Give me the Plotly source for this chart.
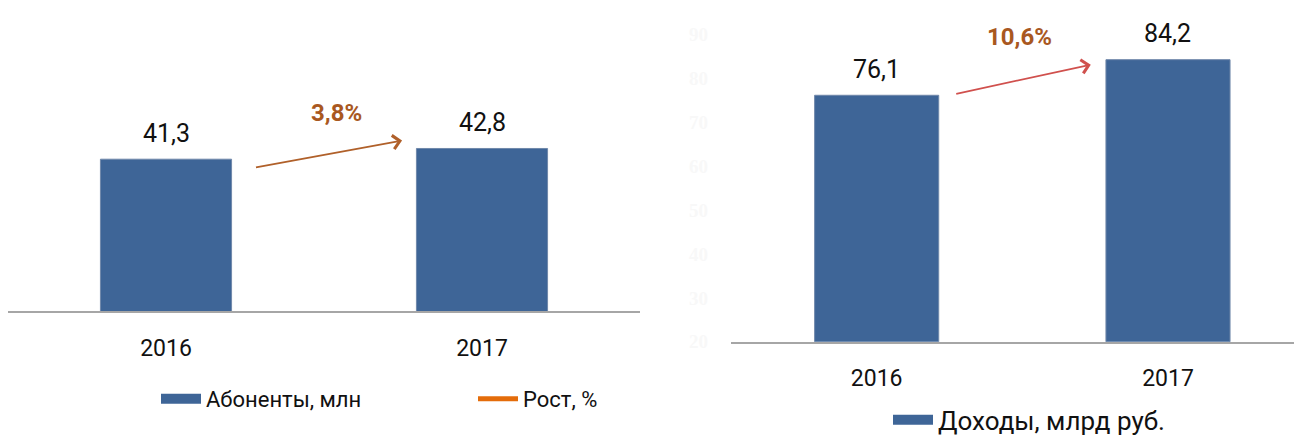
import plotly.graph_objects as go

years = ["2016", "2017"]
subscribers = [41.3, 42.8]      # Абоненты, млн
revenue = [76.1, 84.2]          # Доходы, млрд руб.
growth_subs = "3,8%"
growth_rev = "10,6%"
rev_ticks = [20, 30, 40, 50, 60, 70, 80, 90]

# the page body has an 8px margin, so the figure sits 8px right/down in the window
W, H = 1294, 441
OFF_Y = 8
FONT = "Roboto"
BAR = "#3e6597"
BAR_EDGE = "#7088aa"
TXT = "#111111"


def fx(px):
    return px / W


def fy(py):
    return 1 - (py - OFF_Y) / H


def fmt(v):
    return f"{v:.1f}".replace(".", ",")


fig = go.Figure()

fig.add_trace(go.Bar(
    x=years, y=subscribers, width=0.415,
    marker=dict(color=BAR, line=dict(color=BAR_EDGE, width=1)),
    showlegend=False, xaxis="x", yaxis="y"))

# legend stand-ins for the left chart
fig.add_trace(go.Scatter(
    x=[None], y=[None], mode="lines", name="Абоненты, млн",
    line=dict(color=BAR, width=14), legend="legend", xaxis="x", yaxis="y"))
fig.add_trace(go.Scatter(
    x=[None], y=[None], mode="lines", name="Рост, %",
    line=dict(color="#e46c0a", width=5), legend="legend", xaxis="x", yaxis="y"))

fig.add_trace(go.Bar(
    x=years, y=revenue, width=0.426,
    marker=dict(color=BAR, line=dict(color=BAR_EDGE, width=1)),
    showlegend=False, xaxis="x2", yaxis="y2"))

fig.add_trace(go.Scatter(
    x=[None], y=[None], mode="lines", name="Доходы, млрд руб.",
    line=dict(color=BAR, width=14), legend="legend2", xaxis="x2", yaxis="y2"))

# value labels above the bars
for xr, yr, vals in [("x", "y", subscribers), ("x2", "y2", revenue)]:
    for i, v in enumerate(vals):
        fig.add_annotation(x=i, y=v, xref=xr, yref=yr, text=fmt(v),
                           showarrow=False, yanchor="middle", yshift=26,
                           font=dict(size=25, color=TXT, family=FONT))

# growth arrows
fig.add_annotation(
    x=0.747, y=43.9, ax=0.28, ay=40.1, xref="x", yref="y", axref="x", ayref="y",
    text="", showarrow=True, arrowhead=4, arrowsize=1.5, arrowwidth=1.8,
    arrowcolor="#b0602a")
fig.add_annotation(
    x=0.54, y=47.7, xref="x", yref="y", text="<b>" + growth_subs + "</b>",
    showarrow=False, yanchor="middle", font=dict(size=24, color="#a9581f", family=FONT))

fig.add_annotation(
    x=0.735, y=83.07, ax=0.268, ay=76.35, xref="x2", yref="y2", axref="x2", ayref="y2",
    text="", showarrow=True, arrowhead=4, arrowsize=1.5, arrowwidth=1.8,
    arrowcolor="#d0504d")
fig.add_annotation(
    x=0.49, y=fy(28), xref="x2", yref="paper", text="<b>" + growth_rev + "</b>",
    showarrow=False, yanchor="middle", font=dict(size=24, color="#a9581f", family=FONT))

axis_common = dict(type="category", showline=True, linecolor="#a6a6a6", linewidth=1.5,
                   ticks="outside", ticklen=15, tickcolor="rgba(0,0,0,0)",
                   tickfont=dict(size=23, family=FONT, color=TXT),
                   showgrid=False, zeroline=False)

fig.update_layout(
    width=W, height=H,
    margin=dict(l=0, r=0, t=0, b=0),
    paper_bgcolor="white", plot_bgcolor="white",
    font=dict(family=FONT, size=20, color=TXT),
    xaxis=dict(domain=[0, fx(632)], range=[-0.5, 1.5], **axis_common),
    yaxis=dict(domain=[fy(316), fy(16)], range=[20, 60],
               visible=False, showgrid=False, zeroline=False),
    xaxis2=dict(domain=[fx(723), 1], range=[-0.5, 1.46], anchor="y2", **axis_common),
    yaxis2=dict(domain=[fy(348), fy(25)], range=[20, 90],
                anchor="x2", tickvals=rev_ticks, showgrid=False, zeroline=False,
                showline=False, ticks="", ticklabelstandoff=22,
                tickfont=dict(size=19, family="Liberation Serif", color="#f8f8f8",
                              weight="bold")),
    legend=dict(orientation="h", x=fx(148), y=fy(408),
                xanchor="left", yanchor="middle", entrywidth=262,
                font=dict(size=22, family=FONT, color=TXT),
                itemwidth=40, bgcolor="rgba(0,0,0,0)"),
    legend2=dict(orientation="h", x=fx(880), y=fy(430),
                 xanchor="left", yanchor="middle",
                 font=dict(size=26, family=FONT, color=TXT),
                 itemwidth=40, bgcolor="rgba(0,0,0,0)"),
)

fig.write_html("out.html")
